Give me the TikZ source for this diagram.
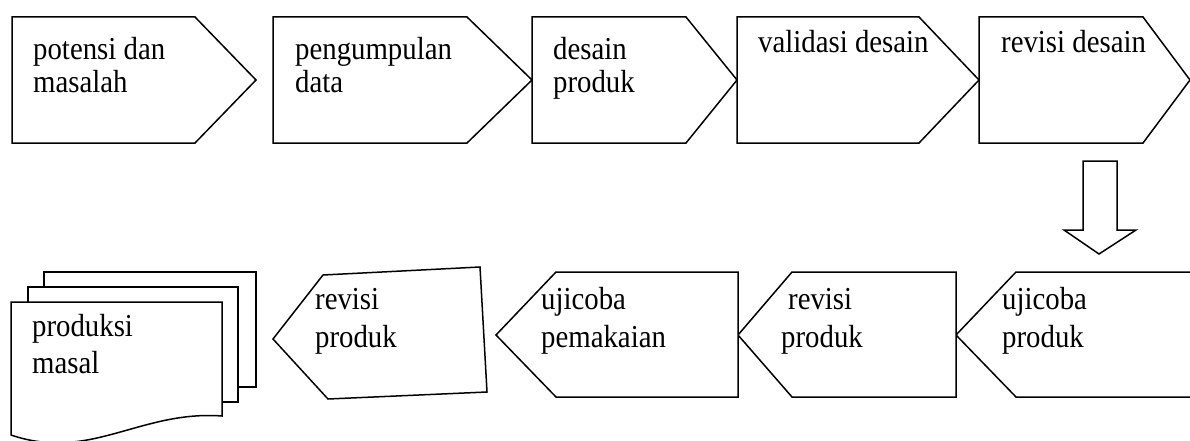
\documentclass[tikz,border=0pt]{standalone}
\usepackage{fontspec}
\setmainfont[FakeStretch=0.9]{Liberation Serif}

\tikzset{
  stageshape/.style={draw=black, line width=1.5pt, fill=white, line join=miter},
  % base of a two-line label is its last line
  stagetext/.style={anchor=base west, align=left, inner sep=0pt, text=black,
    font=\fontsize{32}{33}\selectfont},
  lowtext/.style={stagetext, font=\fontsize{32}{38}\selectfont}
}

\begin{document}
\begin{tikzpicture}[x=1pt, y=-1pt]
  \useasboundingbox (0,0) rectangle (1190,441);
  \clip (0,0) rectangle (1190,441);
  \fill[white] (0,0) rectangle (1190,441);

  % top row, pointing right
  \draw[stageshape] (12,17) -- (195,17) -- (256,80) -- (195,143) -- (12,143) -- cycle;
  \draw[stageshape] (273,17) -- (467,17) -- (532,80) -- (467,143) -- (273,143) -- cycle;
  \draw[stageshape] (532,17) -- (686,17) -- (737,80) -- (686,143) -- (532,143) -- cycle;
  \draw[stageshape] (737,17) -- (919,17) -- (979,80) -- (919,143) -- (737,143) -- cycle;
  \draw[stageshape] (979,17) -- (1143,17) -- (1190,80) -- (1143,143) -- (979,143) -- cycle;

  \node[stagetext] (potensi) at (33,93) {potensi dan\\masalah};
  \node[stagetext] (pengumpulan) at (295,93) {pengumpulan\\data};
  \node[stagetext] (desain) at (553,93) {desain\\produk};
  \node[stagetext] (validasi) at (758,53) {validasi desain};
  \node[stagetext] (revisidesain) at (1001,53) {revisi desain};

  % block arrow down to the second row
  \draw[stageshape] (1083,161) -- (1117,161) -- (1117,230) -- (1136,230)
    -- (1099,254) -- (1064,230) -- (1083,230) -- cycle;

  % bottom row, pointing left
  \draw[stageshape] (956,335) -- (1016,272) -- (1200,272) -- (1200,397) -- (1016,397) -- cycle;
  \draw[stageshape] (738,335) -- (792,272) -- (956,272) -- (956,397) -- (792,397) -- cycle;
  \draw[stageshape] (496,335) -- (556,272) -- (738,272) -- (738,397) -- (556,397) -- cycle;
  \draw[stageshape] (273,339) -- (323,275) -- (480,267) -- (487,392) -- (328,399) -- cycle;

  % stack of documents
  \draw[stageshape] (44,272) rectangle (256,387);
  \draw[stageshape] (28,287) rectangle (238,402);
  \draw[stageshape] (11,302) -- (222,302) -- (222,416)
    .. controls (140,410) and (90,462) .. (11,435) -- cycle;

  \node[stagetext, font=\fontsize{32}{37}\selectfont] (produksi) at (32,373) {produksi\\masal};
  \node[lowtext] (revisiproduk) at (315,347) {revisi\\produk};
  \node[lowtext] (ujicobapakai) at (541,347) {ujicoba\\pemakaian};
  \node[lowtext] (revisiproduklagi) at (781,347) {\hspace*{7pt}revisi\\produk};
  \node[lowtext] (ujicobaproduk) at (1002,347) {ujicoba\\produk};
\end{tikzpicture}
\end{document}
